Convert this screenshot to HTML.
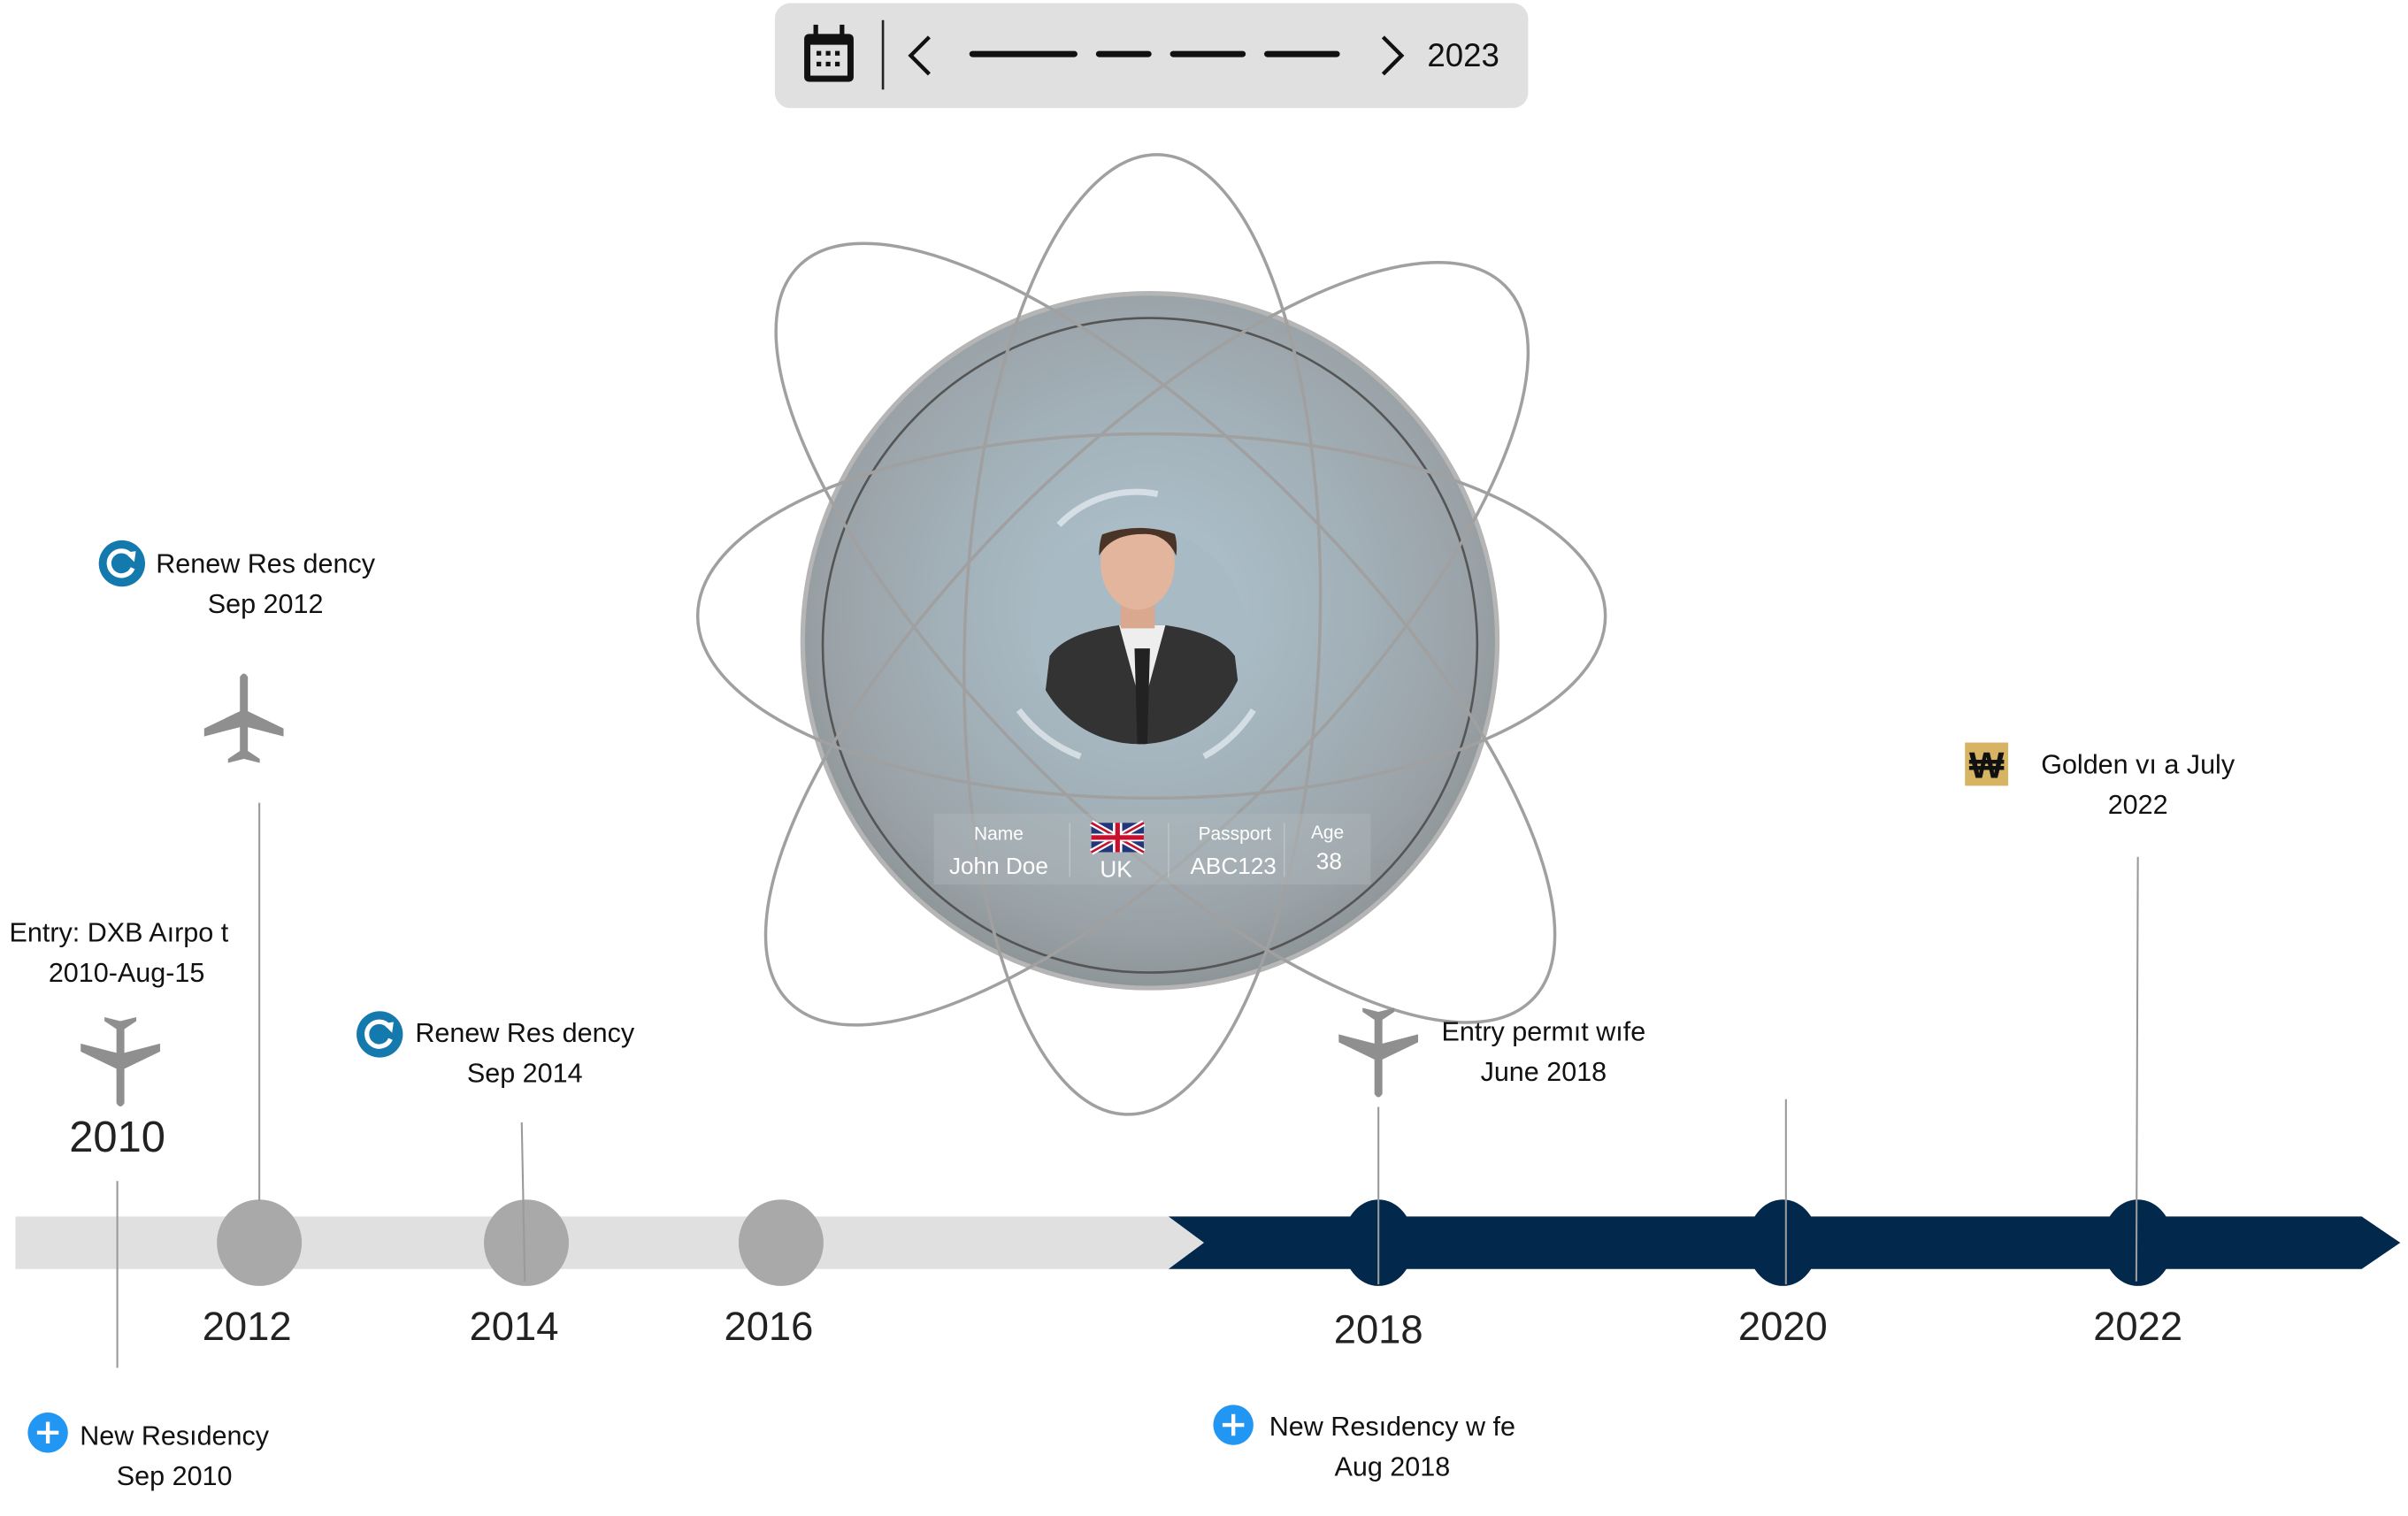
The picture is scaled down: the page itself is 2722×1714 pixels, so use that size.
<!DOCTYPE html>
<html><head><meta charset="utf-8"><style>
html,body{margin:0;padding:0;background:#fff;width:2722px;height:1714px;overflow:hidden}
svg{display:block;font-family:"Liberation Sans",sans-serif}
</style></head><body>
<svg id="chart" width="2722" height="1714" viewBox="0 0 1560 982" preserveAspectRatio="none" xmlns="http://www.w3.org/2000/svg">
<defs>
<radialGradient id="globeG" cx="50%" cy="45%" r="55%">
<stop offset="0" stop-color="#b0c4d0"/><stop offset="0.5" stop-color="#a3b2ba"/><stop offset="0.85" stop-color="#9aa2a7"/><stop offset="1" stop-color="#8e9598"/>
</radialGradient>
<clipPath id="photoClip"><circle cx="738" cy="412" r="70"/></clipPath>
<symbol id="plane" viewBox="0 0 60 70"><path fill="#8f8f8f" d="M27 4 Q30 -1 33 4 L33 30 L60 43 L60 49 L33 42 L33 60 L42 66 L42 69 L30 66 L18 69 L18 66 L27 60 L27 42 L0 49 L0 43 L27 30 Z"/></symbol>
</defs>

<g>
<rect x="502" y="2" width="488" height="68" rx="10" fill="#e0e0e0"/>
<g>
<rect x="521" y="22" width="32" height="31" rx="3" fill="#111"/><rect x="525" y="29" width="24" height="20" fill="#e0e0e0"/>
<rect x="527" y="16" width="3" height="7" fill="#111"/><rect x="544" y="16" width="3" height="7" fill="#111"/>
<g fill="#111"><rect x="529" y="33" width="3" height="3"/><rect x="535" y="33" width="3" height="3"/><rect x="541" y="33" width="3" height="3"/><rect x="529" y="40" width="3" height="3"/><rect x="535" y="40" width="3" height="3"/><rect x="541" y="40" width="3" height="3"/></g>
</g>
<line x1="572" y1="13" x2="572" y2="58" stroke="#222" stroke-width="1.5"/>
<path d="M602 24 L590 36 L602 48" fill="none" stroke="#111" stroke-width="2.5"/>
<g stroke="#111" stroke-width="4" stroke-linecap="round">
<line x1="630" y1="35" x2="696" y2="35"/><line x1="712" y1="35" x2="744" y2="35"/><line x1="760" y1="35" x2="805" y2="35"/><line x1="821" y1="35" x2="866" y2="35"/></g>
<path d="M896 24 L908 36 L896 48" fill="none" stroke="#111" stroke-width="2.5"/>
<text x="948" y="43" font-size="21" text-anchor="middle" fill="#111">2023</text>
</g>

<g>
<circle cx="745" cy="415" r="225" fill="url(#globeG)" stroke="#b5b5b5" stroke-width="3"/>
<circle cx="745" cy="418" r="212" fill="none" stroke="#555" stroke-width="1.5"/>
<g fill="none" stroke="#a0a0a0" stroke-width="2">
<ellipse cx="740" cy="411" rx="115" ry="311" transform="rotate(2 740 411)"/>
<ellipse cx="746" cy="399" rx="294" ry="118"/>
<ellipse cx="755" cy="410" rx="120" ry="336" transform="rotate(-45 755 410)"/>
<ellipse cx="743" cy="417" rx="120" ry="328" transform="rotate(45 743 417)"/>
</g>
<g clip-path="url(#photoClip)">
<circle cx="738" cy="412" r="70" fill="#a8bac4"/>
<path d="M672 492 L680 425 Q690 410 725 405 L755 405 Q790 410 800 425 L808 492 Z" fill="#333"/>
<path d="M725 405 L740 460 L755 405 Z" fill="#eee"/>
<path d="M735 420 L745 420 L743 490 L737 490 Z" fill="#222"/>
<rect x="726" y="375" width="22" height="32" fill="#d9a88e"/>
<ellipse cx="737" cy="365" rx="24" ry="30" fill="#e2b59c"/>
<path d="M712 360 Q712 330 740 332 Q765 334 762 360 Q755 345 740 346 Q720 346 712 360 Z" fill="#4a3428"/>
</g>
<path d="M686 340 A70 70 0 0 1 750 320" fill="none" stroke="#e8eef2" stroke-width="4" opacity="0.7"/>
<path d="M660 460 A90 90 0 0 0 700 490 M780 490 A90 90 0 0 0 812 460" fill="none" stroke="#e8eef2" stroke-width="4" opacity="0.7"/>
<rect x="605" y="527" width="283" height="46" fill="#b4bcc0" opacity="0.35"/>
<g fill="#fff" text-anchor="middle">
<text x="647" y="544" font-size="12">Name</text><text x="647" y="566" font-size="15">John Doe</text>
<g><rect x="707" y="533" width="34" height="19" fill="#22367a"/>
<path d="M707 533 L741 552 M741 533 L707 552" stroke="#fff" stroke-width="4"/><path d="M707 533 L741 552 M741 533 L707 552" stroke="#c8102e" stroke-width="1.5"/>
<rect x="721" y="533" width="6" height="19" fill="#fff"/><rect x="707" y="540" width="34" height="5" fill="#fff"/>
<rect x="722.5" y="533" width="3" height="19" fill="#c8102e"/><rect x="707" y="541" width="34" height="3" fill="#c8102e"/></g>
<text x="723" y="568" font-size="15">UK</text>
<text x="800" y="544" font-size="12">Passport</text><text x="799" y="566" font-size="15">ABC123</text>
<text x="860" y="543" font-size="12">Age</text><text x="861" y="563" font-size="15">38</text>
<g stroke="#c8cdd0" stroke-width="1" opacity="0.6"><line x1="693" y1="533" x2="693" y2="568"/><line x1="757" y1="533" x2="757" y2="568"/><line x1="832" y1="533" x2="832" y2="568"/></g>
</g>
</g>

<g>
<path d="M10 788 L757 788 L780 805 L757 822 L10 822 Z" fill="#e0e0e0"/>
<path d="M757 788 L1530 788 L1555 805 L1530 822 L757 822 L780 805 Z" fill="#02284b"/>
<g id="milestones"></g>
<g id="yearLabels"></g>
</g>
<g id="events"></g>
</svg>
<script>
const years = [2012, 2014, 2016, 2018, 2020, 2022];
const milestoneStatus = ["past","past","past","future","future","future"];
const axisYears = [2010, 2012, 2014, 2016, 2018, 2020, 2022];
const axisPx = [76, 168, 341, 506, 893, 1155, 1385];
function xScale(y){
  for(let i=0;i<axisYears.length-1;i++){
    if(y<=axisYears[i+1]){const t=(y-axisYears[i])/(axisYears[i+1]-axisYears[i]);return axisPx[i]+t*(axisPx[i+1]-axisPx[i]);}
  }
  return axisPx[axisPx.length-1];
}
const NS="http://www.w3.org/2000/svg";
function mk(tag,attrs,parent){const e=document.createElementNS(NS,tag);for(const k in attrs)e.setAttribute(k,attrs[k]);parent.appendChild(e);return e;}
const mg=document.getElementById('milestones'), yl=document.getElementById('yearLabels');
years.forEach((y,i)=>{
  const c=mk('ellipse',{cx:xScale(y),cy:805,rx:milestoneStatus[i]==="past"?27.5:23,ry:28,fill:milestoneStatus[i]==="past"?"#a9a9a9":"#02284b"},mg);
  
  
  const t=mk('text',{x:xScale(y)-(y<2018?8:0),y:868+(y===2018?2:0),'font-size':26,'text-anchor':'middle',fill:'#222'},yl);
  t.textContent=String(y);
  
  
});
const t0=mk('text',{x:xScale(2010),y:746,'font-size':28,'text-anchor':'middle',fill:'#222'},yl);
t0.textContent="2010";



const eventYears=[2012.0,2010.0,2014.0,2018.0,2022.0,2010.4,2018.0,2020.0];
const eventLine1=["Renew Res dency","Entry: DXB Aırpo t","Renew Res dency","Entry permıt wıfe","Golden vı  a July","New Resıdency","New Resıdency w fe",""];
const eventLine2=["Sep 2012","2010-Aug-15","Sep 2014","June 2018","2022","Sep 2010","Aug 2018",""];
const eventIcons=["renew","plane","renew","plane","golden","plus","plus","none"];
const ev=document.getElementById('events');
const layout=[
 {tx:172,ty:371,ix:79,iy:365,plane:[158,465],flip:false,line:[168,520,168,778]},
 {tx:77,ty:610,plane:[78,688],flip:true,line:[76,765,76,886]},
 {tx:340,ty:675,ix:246,iy:670,line:[338,727,340,830]},
 {tx:1000,ty:674,plane:[893,682],flip:true,line:[893,717,893,832]},
 {tx:1385,ty:501,ix:1287,iy:495,line:[1385,555,1384,830]},
 {tx:113,ty:936,ix:31,iy:928},
 {tx:902,ty:930,ix:799,iy:923},
 {line:[1157,712,1157,832]}
];
eventYears.forEach((y,i)=>{
  const L=layout[i]; const g=mk('g',{},ev);
  
  
  if(L.line){mk('line',{x1:L.line[0],y1:L.line[1],x2:L.line[2],y2:L.line[3],stroke:'#9a9a9a','stroke-width':1.2},g);}
  if(L.tx){
    const a=mk('text',{x:L.tx,y:L.ty,'font-size':17.5,'text-anchor':'middle',fill:'#111'},g);a.textContent=eventLine1[i];
    const b=mk('text',{x:L.tx+(i===1?5:0),y:L.ty+26,'font-size':17.5,'text-anchor':'middle',fill:'#111'},g);b.textContent=eventLine2[i];
  }
  if(L.plane){
    const attrs={href:'#plane',x:L.plane[0]-30,y:L.plane[1]-30,width:60,height:60};
    if(L.flip) attrs.transform=`rotate(180 ${L.plane[0]} ${L.plane[1]})`;
    mk('use',attrs,g);
  }
  const ic=eventIcons[i];
  if(ic==='renew'){mk('circle',{cx:L.ix,cy:L.iy,r:15,fill:'#1479ad'},g);
    mk('path',{d:`M${L.ix+6} ${L.iy-5} A8 8 0 1 0 ${L.ix+7} ${L.iy+3}`,fill:'none',stroke:'#fff','stroke-width':3},g);
    mk('path',{d:`M${L.ix+2} ${L.iy-7} L${L.ix+9} ${L.iy-8} L${L.ix+8} ${L.iy-1}Z`,fill:'#fff'},g);}
  if(ic==='plus'){mk('circle',{cx:L.ix,cy:L.iy,r:13,fill:'#2196f3'},g);
    mk('path',{d:`M${L.ix-7} ${L.iy}H${L.ix+7}M${L.ix} ${L.iy-7}V${L.iy+7}`,stroke:'#fff','stroke-width':2.5},g);}
  if(ic==='golden'){mk('rect',{x:L.ix-14,y:L.iy-14,width:28,height:28,fill:'#d6b464'},g);
    const s=mk('text',{x:L.ix,y:L.iy+9,'font-size':24,'font-weight':'bold','text-anchor':'middle',fill:'#111'},g);s.textContent='₩';}
});
</script>
</body></html>
